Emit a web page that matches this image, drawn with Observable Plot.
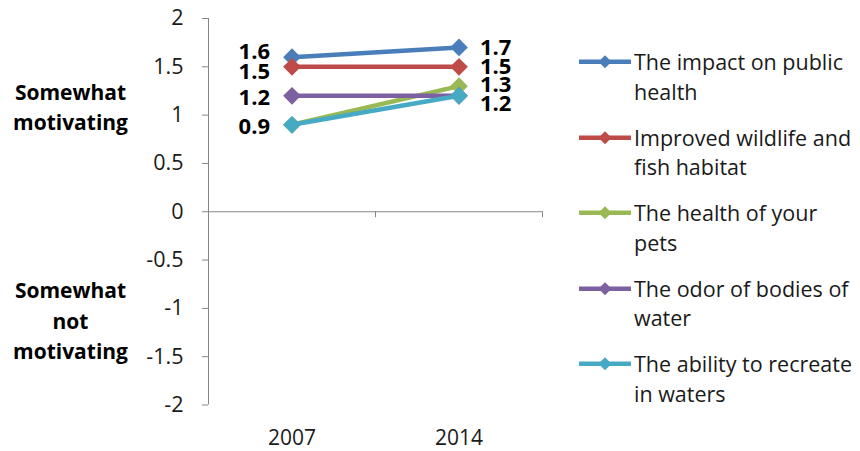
<!DOCTYPE html>
<html><head><meta charset="utf-8">
<script src="https://cdn.jsdelivr.net/npm/d3@7"></script>
<script src="https://cdn.jsdelivr.net/npm/@observablehq/plot@0.6"></script>
<style>
body{margin:0;background:#fff;font-family:"Open Sans",sans-serif;}
#wrap{position:relative;width:860px;height:451px;}
#legend{position:absolute;left:578px;top:47px;}
.entry{display:flex;align-items:flex-start;margin-bottom:16.5px;}
.entry svg{flex:none;}
.entry .lab{font-size:21.5px;line-height:29.5px;color:#1a1a1a;white-space:pre;margin-left:2px;}
</style></head><body><div id="wrap"></div>
<script>
const years = ["2007", "2014"];
const seriesNames = [
  "The impact on public health",
  "Improved wildlife and fish habitat",
  "The health of your pets",
  "The odor of bodies of water",
  "The ability to recreate in waters"
];
const legendLabels = [
  "The impact on public\nhealth",
  "Improved wildlife and\nfish habitat",
  "The health of your\npets",
  "The odor of bodies of\nwater",
  "The ability to recreate\nin waters"
];
const publicHealth = [1.6, 1.7];
const wildlifeHabitat = [1.5, 1.5];
const petHealth = [0.9, 1.3];
const waterOdor = [1.2, 1.2];
const recreation = [0.9, 1.2];
const yTicks = [-2, -1.5, -1, -0.5, 0, 0.5, 1, 1.5, 2];
const sideLabels = ["Somewhat\nmotivating", "Somewhat\nnot\nmotivating"];
const sideLabelValues = [1.1, -1.11];
const colors = ["#4A7EBB", "#BE4B48", "#98B954", "#7D60A0", "#46AAC5"];

const seriesValues = [publicHealth, wildlifeHabitat, petHealth, waterOdor, recreation];
const rows = seriesValues.flatMap((vals, s) =>
  vals.map((v, i) => ({s, name: seriesNames[s], year: years[i], i, value: v})));

// style: pixel nudges of the data labels, per series, per year
const labelNudge = [[-5.5, 0], [5, 0], [2.5, -1], [2, 8], [2.5, 8]];
const axisGray = "#868686";
const ink = "#1a1a1a";
const xPos = d => d.i + 0.5;

const seriesMarks = seriesNames.flatMap((name, s) => {
  const data = rows.filter(d => d.s === s);
  return [
    Plot.line(data, {x: xPos, y: "value", stroke: colors[s], strokeWidth: 4.5}),
    Plot.dot(data, {x: xPos, y: "value", symbol: "diamond2", r: 8, fill: colors[s], stroke: "none"})
  ];
});

// an identical label lying under a later series' label is hidden in the reference
const visibleLabels = rows.filter(d =>
  !rows.some(o => o.i === d.i && o.s > d.s && o.value === d.value));

const labelMarks = visibleLabels.map(d => Plot.text([d], {
  x: xPos, y: "value", text: r => r.value.toFixed(1),
  textAnchor: d.i === 0 ? "end" : "start",
  dx: d.i === 0 ? -22 : 21,
  dy: labelNudge[d.s][d.i],
  fontWeight: "bold", fontSize: 22, fill: "#000"
}));

const sideData = sideLabels.map((t, k) => ({t, v: sideLabelValues[k]}));

const chart = Plot.plot({
  width: 860, height: 451,
  marginLeft: 208, marginRight: 318, marginTop: 18, marginBottom: 46.5,
  x: {domain: [0, years.length]},
  y: {domain: [-2, 2]},
  style: {fontFamily: "'Open Sans', sans-serif", fontSize: "21px", color: ink, background: "white"},
  marks: [
    Plot.ruleX([0], {stroke: axisGray, strokeWidth: 1}),
    Plot.ruleY([0], {stroke: axisGray, strokeWidth: 1}),
    Plot.ruleX(d3.range(years.length + 1), {y1: 0, y2: 0, insetBottom: -6, stroke: axisGray}),
    Plot.axisY(yTicks, {tickSize: 6, tickPadding: 19, tickFormat: d => String(d), stroke: axisGray, fill: ink, fontSize: 21.5, label: null}),
    Plot.axisX(years.map((_, i) => i + 0.5), {tickFormat: d => years[d - 0.5], tickSize: 0, tickPadding: 25, fill: ink, fontSize: 21, label: null}),
    Plot.text(sideData, {y: "v", text: "t", frameAnchor: "left", dx: -138, textAnchor: "middle", lineHeight: 1.45, fontWeight: "bold", fontSize: 21, fill: "#000"}),
    ...seriesMarks,
    ...labelMarks
  ]
});

const wrap = document.getElementById("wrap");
wrap.appendChild(chart);

const legend = document.createElement("div");
legend.id = "legend";
seriesNames.forEach((name, s) => {
  const e = document.createElement("div");
  e.className = "entry";
  const ns = "http://www.w3.org/2000/svg";
  const sw = document.createElementNS(ns, "svg");
  sw.setAttribute("width", 54); sw.setAttribute("height", 29.5);
  const ln = document.createElementNS(ns, "line");
  ln.setAttribute("x1", 1); ln.setAttribute("x2", 53);
  ln.setAttribute("y1", 14.75); ln.setAttribute("y2", 14.75);
  ln.setAttribute("stroke", colors[s]); ln.setAttribute("stroke-width", 4.5);
  sw.appendChild(ln);
  const pg = document.createElementNS(ns, "polygon");
  pg.setAttribute("points", "27,8.25 33.5,14.75 27,21.25 20.5,14.75");
  pg.setAttribute("fill", colors[s]);
  sw.appendChild(pg);
  e.appendChild(sw);
  const lab = document.createElement("div");
  lab.className = "lab";
  lab.textContent = legendLabels[s];
  e.appendChild(lab);
  legend.appendChild(e);
});
wrap.appendChild(legend);
</script></body></html>
